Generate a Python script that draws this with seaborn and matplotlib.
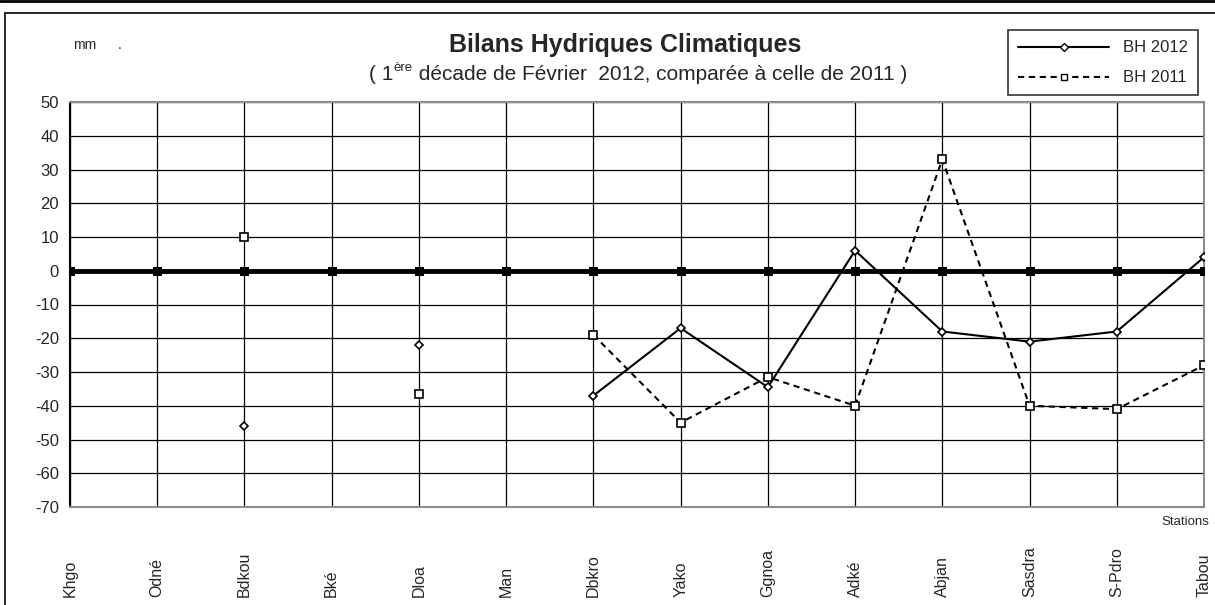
# Bilans hydriques climatiques - 1ère décade de février 2012 vs 2011
import numpy as np
import pandas as pd
import matplotlib
matplotlib.use("Agg")
import matplotlib.pyplot as plt
from matplotlib.lines import Line2D
import seaborn as sns

# -----------------------------
# Data
# -----------------------------
stations = ["Khgo", "Odné", "Bdkou", "Bké", "Dloa", "Man", "Dbkro",
            "Yako", "Ggnoa", "Adké", "Abjan", "Sasdra", "S-Pdro", "Tabou"]
bh_2012 = [np.nan, np.nan, -46, np.nan, -22, np.nan, -37,
           -17, -34.5, 6, -18, -21, -18, 4]
bh_2011 = [np.nan, np.nan, 10, np.nan, -36.5, np.nan, -19,
           -45, -31.5, -40, 33, -40, -41, -28]
zero_ref = [0] * len(stations)
y_ticks = list(range(-70, 51, 10))


def to_frame(values):
    # split the series where values are missing so gaps are not joined
    rows, seg = [], 0
    for i, v in enumerate(values):
        if np.isnan(v):
            seg += 1
            continue
        rows.append({"pos": i, "val": v, "seg": seg})
    return pd.DataFrame(rows)


df12 = to_frame(bh_2012)
df11 = to_frame(bh_2011)
df0 = to_frame(zero_ref)

# -----------------------------
# Figure
# -----------------------------
sns.set_style("white")
plt.rcParams["font.family"] = ["Liberation Sans", "DejaVu Sans"]

W, H = 1215, 605
fig = plt.figure(figsize=(W / 100, H / 100), dpi=100)
ax = fig.add_axes([70 / W, 1 - 507 / H, 1134 / W, 405 / H])

sns.lineplot(data=df0, x="pos", y="val", units="seg", estimator=None,
             color="black", lw=3.5, marker="s", markersize=5.5,
             markerfacecolor="black", markeredgecolor="black",
             ax=ax, legend=False, zorder=3)
sns.lineplot(data=df11, x="pos", y="val", units="seg", estimator=None,
             color="black", lw=1.5, linestyle=(0, (3, 2.2)), marker="s",
             markersize=5.5, markerfacecolor="white", markeredgecolor="black",
             markeredgewidth=1.2, ax=ax, legend=False, zorder=4)
sns.lineplot(data=df12, x="pos", y="val", units="seg", estimator=None,
             color="black", lw=1.5, marker="D", markersize=4.5,
             markerfacecolor="white", markeredgecolor="black",
             markeredgewidth=1.2, ax=ax, legend=False, zorder=5)

ax.set_xlim(0, len(stations) - 1)
ax.set_ylim(-70, 50)
ax.set_yticks(y_ticks)
ax.set_yticklabels([str(t) for t in y_ticks], fontsize=12)
ax.set_xticks(range(len(stations)))
ax.set_xticklabels(stations, rotation=90, fontsize=11.5, va="bottom")
ax.tick_params(axis="x", length=0, pad=65)
ax.tick_params(axis="y", length=5, width=1, direction="out", color="black", pad=3)
ax.set_xlabel("")
ax.set_ylabel("")

ax.set_axisbelow(True)
ax.grid(True, color="black", lw=0.9)
for side in ["top", "right", "bottom"]:
    ax.spines[side].set_color("#8c8c8c")
    ax.spines[side].set_linewidth(1.5)
ax.spines["left"].set_color("black")
ax.spines["left"].set_linewidth(1.5)

# legend
handles = [
    Line2D([], [], color="black", lw=1.5, marker="D", markersize=4.5,
           markerfacecolor="white", markeredgecolor="black"),
    Line2D([], [], color="black", lw=1.5, linestyle=(0, (3, 2.2)), marker="s",
           markersize=5, markerfacecolor="white", markeredgecolor="black"),
]
leg = fig.legend(handles, ["BH 2012", "BH 2011"], loc="upper right",
                 bbox_to_anchor=(1206 / W, 1 - 22 / H), fontsize=12,
                 handlelength=5.5, frameon=True, fancybox=False,
                 edgecolor="black", borderpad=0.6, labelspacing=0.9)
leg.get_frame().set_linewidth(1.2)

# frame lines of the page
fig.add_artist(Line2D([0, 1], [1 - 1 / H, 1 - 1 / H], color="black", lw=2,
                      transform=fig.transFigure))
fig.add_artist(Line2D([5 / W, 1], [1 - 13 / H, 1 - 13 / H], color="black", lw=1.2,
                      transform=fig.transFigure))
fig.add_artist(Line2D([5 / W, 5 / W], [0, 1 - 13 / H], color="black", lw=1.2,
                      transform=fig.transFigure))

# titles
fig.text(625 / W, 1 - 45 / H, "Bilans Hydriques Climatiques", fontsize=18,
         fontweight="bold", ha="center", va="center")

renderer = fig.canvas.get_renderer()
parts = [("( 1", 15, 0), ("ère", 9.5, 7), (" décade de Février  2012, comparée à celle de 2011 )", 15, 0)]
texts = [fig.text(0, 1 - 75 / H, p, fontsize=fs, va="center") for p, fs, _ in parts]
widths = [t.get_window_extent(renderer).width for t in texts]
x = 638 - sum(widths) / 2
for t, w, (_, _, dy) in zip(texts, widths, parts):
    t.set_position((x / W, 1 - (75 - dy) / H))
    x += w

fig.text(73 / W, 1 - 45 / H, "mm", fontsize=10, va="center")
fig.text(118 / W, 1 - 45 / H, ".", fontsize=10, va="center")
fig.text(1185 / W, 1 - 522 / H, "Stations", fontsize=9.5, ha="center", va="center")

plt.savefig("out.png", dpi=100)
